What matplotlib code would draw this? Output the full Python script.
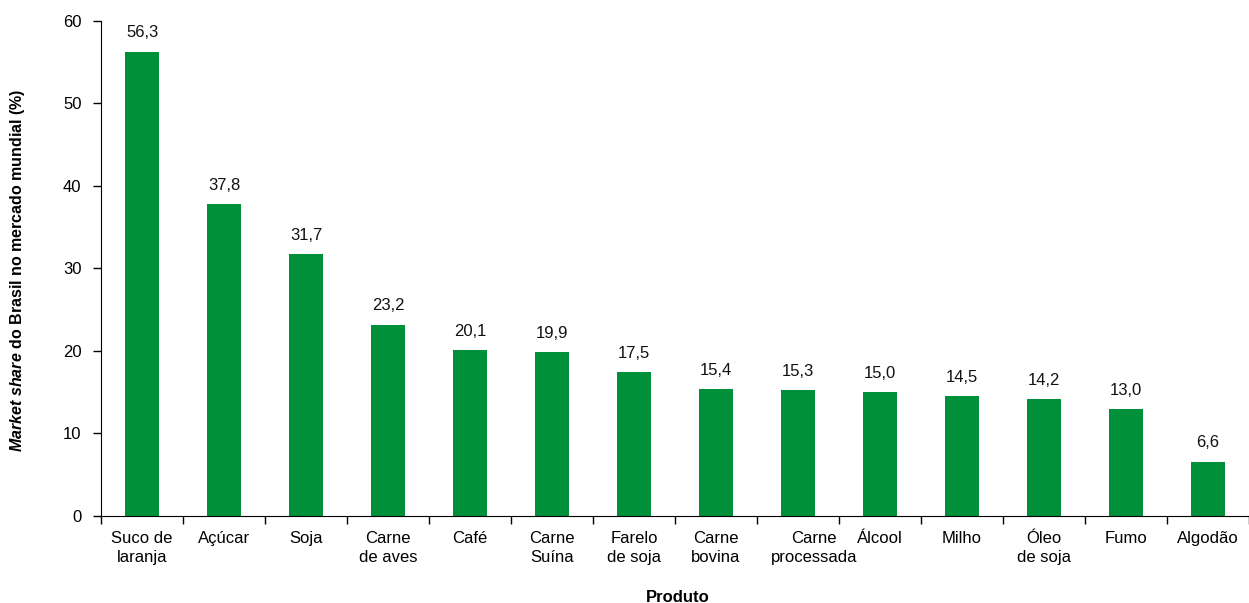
import matplotlib
matplotlib.use("Agg")
import matplotlib.pyplot as plt
import matplotlib.transforms as mtransforms
import numpy as np

plt.rcParams["font.family"] = ["Liberation Sans", "DejaVu Sans"]
plt.rcParams["mathtext.fontset"] = "custom"
plt.rcParams["mathtext.it"] = "Liberation Sans:italic:bold"
plt.rcParams["mathtext.rm"] = "Liberation Sans:bold"

produtos = ["Suco de\nlaranja", "Açúcar", "Soja", "Carne\nde aves", "Café",
            "Carne\nSuína", "Farelo\nde soja", "Carne\nbovina", "Carne\nprocessada",
            "Álcool", "Milho", "Óleo\nde soja", "Fumo", "Algodão"]
market_share = [56.3, 37.8, 31.7, 23.2, 20.1, 19.9, 17.5, 15.4, 15.3,
                15.0, 14.5, 14.2, 13.0, 6.6]
y_ticks = [0, 10, 20, 30, 40, 50, 60]

fig = plt.figure(figsize=(12.49, 6.03), dpi=100)
ax = fig.add_axes([0.0809, 0.1443, 0.9191, 0.8209])

n = len(produtos)
x = np.arange(n) + 0.5
bars = ax.bar(x, market_share, width=0.41, color="#00903A", edgecolor="none")

for xi, v in zip(x, market_share):
    ax.annotate(f"{v:.1f}".replace(".", ","), (xi, v), xytext=(0, 8),
                textcoords="offset points", ha="center", va="bottom",
                fontsize=12, color="#111111")

ax.set_xlim(0, n)
ax.set_ylim(0, 60)
ax.set_yticks(y_ticks)
ax.set_yticklabels([str(t) for t in y_ticks], fontsize=12)

# boundary tick marks between categories, labels at bar centres
ax.set_xticks(np.arange(n + 1), minor=False)
ax.set_xticklabels([])
ax.set_xticks(x, minor=True)
ax.set_xticklabels(produtos, minor=True, fontsize=12, linespacing=1.3)
ax.tick_params(axis="x", which="major", direction="out", length=6, width=1)
ax.tick_params(axis="x", which="minor", length=0, pad=11)
ax.tick_params(axis="y", direction="out", length=6, width=1, pad=8)

for lab in ax.get_xticklabels(minor=True):
    if lab.get_text().startswith("Carne\nprocessada"):
        lab.set_transform(lab.get_transform() +
                          mtransforms.ScaledTranslation(16 / 100, 0, fig.dpi_scale_trans))

ax.spines["top"].set_visible(False)
ax.spines["right"].set_visible(False)

fig.text(678 / 1249, 1 - 597 / 603, "Produto", fontsize=12, fontweight="bold",
         ha="center", va="center")
fig.text(18 / 1249, 1 - 270 / 603,
         r"$\mathit{Market\ share}$ do Brasil no mercado mundial (%)",
         fontsize=11.5, fontweight="bold", rotation=90, ha="center", va="center")

fig.savefig("out.png", dpi=100)
